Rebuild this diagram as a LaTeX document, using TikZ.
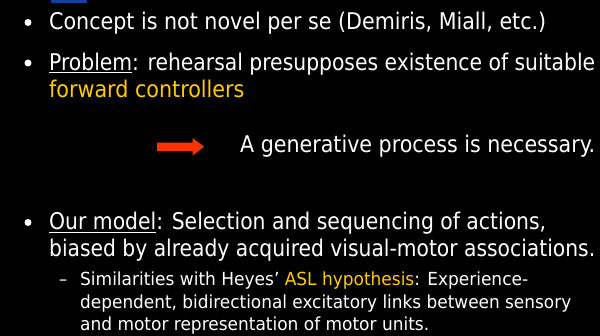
\documentclass[tikz,border=0pt]{standalone}
\usepackage{fontspec}
\usepackage{graphicx}
\setmainfont{DejaVu Sans Condensed}
\definecolor{slideyellow}{RGB}{255,204,0}
\definecolor{slidered}{RGB}{255,51,0}
\definecolor{slideblue}{RGB}{16,64,160}
\newcommand{\fitwd}[2]{\resizebox{#1pt}{\height}{#2}}
\tikzset{
  maintext/.style={anchor=base west, inner sep=0pt, text=white, font=\fontsize{23}{27}\selectfont},
  subtext/.style={anchor=base west, inner sep=0pt, text=white, font=\fontsize{18}{21}\selectfont},
  bulletdot/.style={circle, fill=white, inner sep=0pt, minimum size=7pt}
}
\begin{document}
\begin{tikzpicture}[x=1pt,y=-1pt]
\useasboundingbox (0,0) rectangle (600,336);
\fill[black] (0,0) rectangle (600,336);
\fill[slideblue] (51,0) rectangle (87,3.5);
% bullet 1
\node[bulletdot] (b1) at (28,22.5) {};
\node[maintext] (t1) at (49,30) {\fitwd{497}{Concept is not novel per se (Demiris, Miall, etc.)}};
% bullet 2
\node[bulletdot] (b2) at (28,63) {};
\node[maintext] (t2) at (49,70.8) {\fitwd{546}{\underline{Problem}: rehearsal presupposes existence of suitable}};
\node[maintext, text=slideyellow] (t3) at (49,98) {forward controllers};
% arrow
\fill[slidered] (157,142.7) -- (192.7,142.7) -- (192.7,138) -- (204,146.8) -- (192.7,155.5) -- (192.7,151) -- (157,151) -- cycle;
\node[maintext] (t4) at (240,153) {\fitwd{355}{A generative process is necessary.}};
% bullet 3
\node[bulletdot] (b3) at (28,222.5) {};
\node[maintext] (t5) at (49,230) {\fitwd{497}{\underline{Our model}: Selection and sequencing of actions,}};
\node[maintext] (t6) at (49,256.7) {\fitwd{546}{biased by already acquired visual-motor associations.}};
% sub bullet
\node[subtext] (d1) at (59,286) {–};
\node[subtext] (t7) at (80,286) {\fitwd{448}{Similarities with Heyes’ \textcolor{slideyellow}{ASL hypothesis}: Experience-}};
\node[subtext] (t8) at (80,308.5) {\fitwd{491}{dependent, bidirectional excitatory links between sensory}};
\node[subtext] (t9) at (80,330.5) {\fitwd{349}{and motor representation of motor units.}};
\end{tikzpicture}
\end{document}
